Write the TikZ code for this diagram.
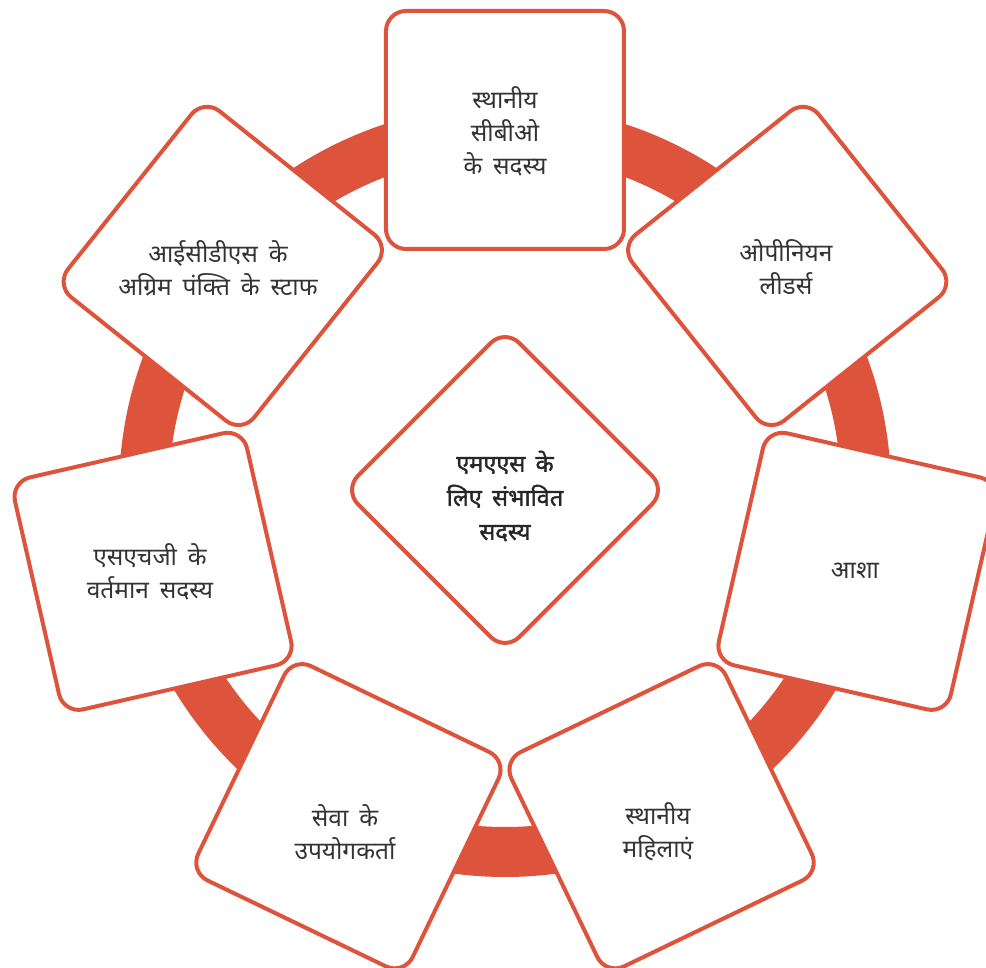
\documentclass[tikz,border=0pt]{standalone}
\usepackage{fontspec}
\newfontfamily\deva[Script=Devanagari, WordSpace=1.7]{Noto Sans}
\newfontfamily\devab[Script=Devanagari, WordSpace=1.7, FakeBold=1.6]{Noto Sans}
\definecolor{ringc}{HTML}{DD533C}
\definecolor{txtc}{HTML}{333333}
\begin{document}
\begin{tikzpicture}[x=1pt,y=1pt,
  box/.style={draw=ringc, line width=4pt, fill=white, rounded corners=20pt,
    minimum size=238pt, inner sep=0pt, outer sep=0pt},
  hub/.style={draw=ringc, line width=4pt, fill=white, rounded corners=20pt,
    minimum size=228pt, inner sep=0pt, rotate=45},
  lbl/.style={font=\deva\fontsize{24.5}{33}\selectfont, text=txtc, align=center},
  hublbl/.style={font=\devab\fontsize{23.5}{34}\selectfont, text=black!85, align=center}]
\useasboundingbox (-505,-477) rectangle (481,491);
\draw[ringc, line width=50pt] (0,0) circle (361);
\node[box, rotate=0] (b1) at (90:361) {};
\node[box, rotate=-51.43] (b2) at (38.57:361) {};
\node[box, rotate=-102.86] (b3) at (-12.86:361) {};
\node[box, rotate=-154.29] (b4) at (-64.29:361) {};
\node[box, rotate=154.29] (b5) at (-115.71:361) {};
\node[box, rotate=102.86] (b6) at (-167.14:361) {};
\node[box, rotate=51.43] (b7) at (141.43:361) {};
\node[hub] (hub) at (0,1) {};
\node[lbl] (t1) at (0,360) {स्थानीय\\सीबीओ\\के सदस्य};
\node[lbl] (t2) at (281,224) {ओपीनियन\\लीडर्स};
\node[lbl] (t3) at (350,-80) {आशा};
\node[lbl] (t4) at (153,-341) {स्थानीय\\महिलाएं};
\node[lbl] (t5) at (-160,-341) {सेवा के\\उपयोगकर्ता};
\node[lbl] (t6) at (-355,-81) {एसएचजी के\\वर्तमान सदस्य};
\node[lbl] (t7) at (-287,223) {आईसीडीएस के\\अग्रिम पंक्ति के स्टाफ};
\node[hublbl] (th) at (0,-5) {एमएएस के\\लिए संभावित\\सदस्य};
\end{tikzpicture}
\end{document}
